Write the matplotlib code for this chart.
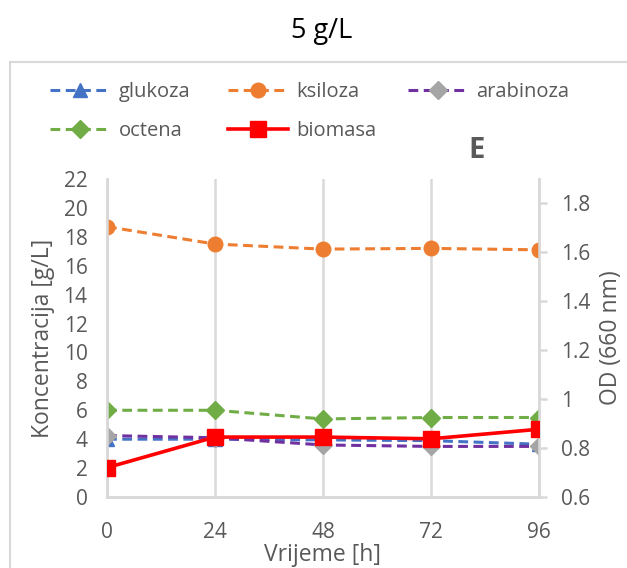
import matplotlib
matplotlib.use("Agg")
import matplotlib.pyplot as plt
from matplotlib.lines import Line2D

plt.rcParams['font.family'] = ['Open Sans', 'DejaVu Sans']

time_h = [0, 24, 48, 72, 96]
glukoza = [4.0, 4.0, 3.95, 3.9, 3.65]
ksiloza = [18.7, 17.5, 17.15, 17.2, 17.1]
arabinoza = [4.25, 4.1, 3.6, 3.5, 3.5]
octena = [6.0, 6.0, 5.4, 5.5, 5.5]
biomasa = [0.72, 0.845, 0.845, 0.838, 0.877]

left_ticks = list(range(0, 23, 2))
right_ticks = [0.6, 0.8, 1.0, 1.2, 1.4, 1.6, 1.8]
right_tick_labels = ['0.6', '0.8', '1', '1.2', '1.4', '1.6', '1.8']

txt = '#595959'
grid = '#d9d9d9'
W, H = 627, 568
fig = plt.figure(figsize=(W/100, H/100), dpi=100)
ax = fig.add_axes([107/W, 1-497/H, 432/W, 318/H])
ax2 = ax.twinx()

lw = 2.2
dash = (0, (3.2, 1.8))
l1, = ax.plot(time_h, glukoza, color='#4472C4', ls=dash, lw=lw, marker='^', ms=10, zorder=3)
l2, = ax.plot(time_h, ksiloza, color='#ED7D31', ls=dash, lw=lw, marker='o', ms=10.5, zorder=3)
l3, = ax.plot(time_h, arabinoza, color='#7030A0', ls=dash, lw=lw, marker='D', ms=9,
              mfc='#A5A5A5', mec='#A5A5A5', zorder=4)
l4, = ax.plot(time_h, octena, color='#70AD47', ls=dash, lw=lw, marker='D', ms=9, zorder=3)
l5, = ax2.plot(time_h, biomasa, color='#FF0000', ls='-', lw=2.6, marker='s', ms=11.5, zorder=5)

ax.set_xlim(0, 96)
ax.set_ylim(0, 22)
ax2.set_ylim(0.6, 1.9)
ax.set_xticks(time_h)
ax.set_yticks(left_ticks)
ax2.set_yticks(right_ticks)
ax2.set_yticklabels(right_tick_labels)
ax.grid(axis='x', color=grid, lw=1.8)
ax.set_axisbelow(True)
for a in (ax, ax2):
    a.spines['top'].set_visible(False)
    for s in ('left', 'right', 'bottom'):
        a.spines[s].set_color(grid)
        a.spines[s].set_linewidth(1.8)
ax.tick_params(axis='both', colors=txt, labelsize=15, length=0)
ax.tick_params(axis='y', pad=14)
ax.tick_params(axis='x', pad=18)
ax2.tick_params(axis='y', colors=txt, labelsize=15, length=6, width=1.8, color=grid, pad=10)
ax.set_ylabel('Koncentracija [g/L]', color=txt, fontsize=16.5, labelpad=6)
ax2.set_ylabel('OD (660 nm)', color=txt, fontsize=16.5, labelpad=6)
ax.set_xlabel('Vrijeme [h]', color=txt, fontsize=16.5, labelpad=0)

fig.text(322/W, 1-31/H, '5 g/L', ha='center', va='center', fontsize=19.5, color='black')
fig.text(477/W, 1-150/H, 'E', ha='center', va='center', fontsize=21, fontweight='bold', color=txt)

# border of chart area
fig.add_artist(Line2D([10/W, 1], [1-62/H, 1-62/H], color='#d9d9d9', lw=1.5, transform=fig.transFigure))
fig.add_artist(Line2D([10/W, 10/W], [0, 1-62/H], color='#d9d9d9', lw=1.5, transform=fig.transFigure))

groups = [([l1, l4], ['glukoza', 'octena'], 50),
          ([l2, l5], ['ksiloza', 'biomasa'], 228),
          ([l3], ['arabinoza'], 408)]
for hs, ls_, x0 in groups:
    leg = fig.legend(hs, ls_, loc='upper left', bbox_to_anchor=(x0/W, 1-82/H),
                     frameon=False, fontsize=14.5, handlelength=3.0, handletextpad=0.4,
                     labelspacing=0.95, borderaxespad=0, borderpad=0)
    for t in leg.get_texts():
        t.set_color(txt)

fig.savefig('out.png', dpi=100)
